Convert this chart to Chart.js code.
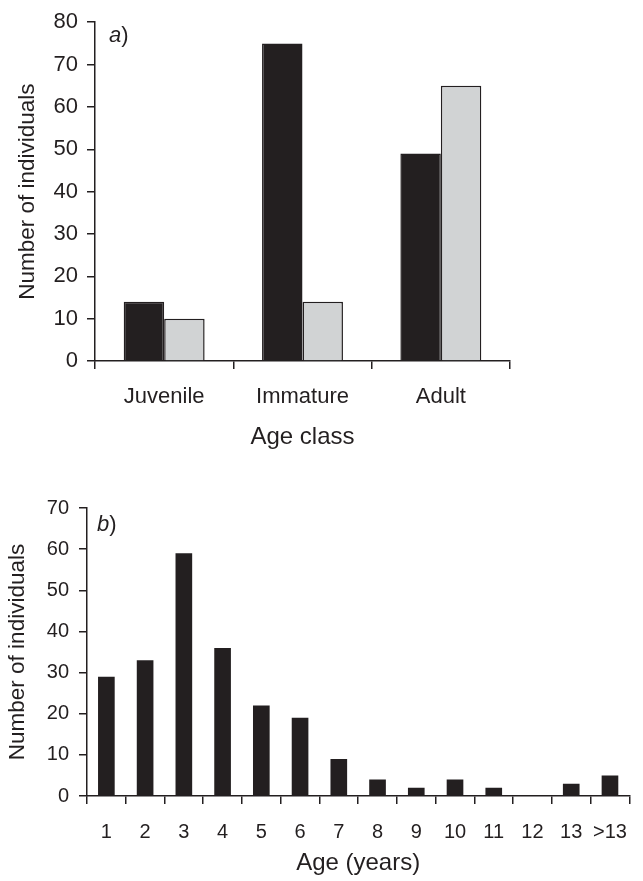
<!DOCTYPE html>
<html>
<head>
<meta charset="utf-8">
<script src="https://cdn.jsdelivr.net/npm/chart.js@4"></script>
<style>
    body { margin: 0; background: #fff; }
    .panel { position: absolute; left: 0; width: 643px; }
    #panelA { top: 0; height: 455px; }
    #panelB { top: 455px; height: 426px; }
</style>
</head>
<body>
<div class="panel" id="panelA"><canvas id="chartA"></canvas></div>
<div class="panel" id="panelB"><canvas id="chartB"></canvas></div>
<script>
const ageClasses = ['Juvenile', 'Immature', 'Adult'];
const darkCounts = [14, 75, 49];
const lightCounts = [10, 14, 65];

const ageYears = ['1', '2', '3', '4', '5', '6', '7', '8', '9', '10', '11', '12', '13', '>13'];
const yearCounts = [29, 33, 59, 36, 22, 19, 9, 4, 2, 4, 2, 0, 3, 5];

const INK = '#231f20';
const GREY = '#d1d3d4';
const FONT = '"Liberation Sans", Arial, Helvetica, sans-serif';

Chart.defaults.font.family = FONT;
Chart.defaults.color = INK;

// draws the italic panel letter followed by an upright bracket
const panelLabel = {
    id: 'panelLabel',
    afterDraw(chart, args, opts) {
        const { ctx, chartArea } = chart;
        const x = chartArea.left + opts.dx;
        const y = chartArea.top + opts.dy;
        ctx.save();
        ctx.fillStyle = INK;
        ctx.textBaseline = 'alphabetic';
        ctx.textAlign = 'left';
        ctx.font = 'italic 22px ' + FONT;
        ctx.fillText(opts.letter, x, y);
        const w = ctx.measureText(opts.letter).width;
        ctx.font = '22px ' + FONT;
        ctx.fillText(')', x + w, y);
        ctx.restore();
    }
};

function axisLines(tickLength) {
    return {
        grid: {
            display: true,
            drawOnChartArea: false,
            drawTicks: true,
            tickLength: tickLength,
            color: INK,
            lineWidth: 1.5
        },
        border: { display: true, color: INK, width: 1.5 }
    };
}

function makeScales(o) {
    return {
        x: {
            ...axisLines(8),
            offset: true,
            afterFit: s => { s.height = o.xHeight; },
            ticks: { font: { size: o.tickSize }, padding: o.xPad, maxRotation: 0, autoSkip: false },
            title: {
                display: true,
                text: o.xTitle,
                font: { size: 24 },
                padding: { top: 0, bottom: o.xTitlePad }
            }
        },
        y: {
            ...axisLines(8),
            min: 0,
            max: o.yMax,
            afterFit: s => { s.width = o.yWidth; },
            ticks: { stepSize: 10, font: { size: o.tickSize }, padding: o.yPad },
            title: {
                display: true,
                text: 'Number of individuals',
                font: { size: 22.5 },
                padding: { top: o.yTitlePad, bottom: 0 }
            }
        }
    };
}

new Chart(document.getElementById('chartA'), {
    type: 'bar',
    data: {
        labels: ageClasses,
        datasets: [{
            data: darkCounts,
            backgroundColor: INK,
            borderColor: INK,
            borderWidth: 1.5
        }, {
            data: lightCounts,
            backgroundColor: GREY,
            borderColor: INK,
            borderWidth: 1.5
        }]
    },
    options: {
        responsive: true,
        maintainAspectRatio: false,
        animation: false,
        categoryPercentage: 0.585,
        barPercentage: 1,
        layout: { padding: { left: 0, top: 18, right: 133, bottom: 0 } },
        plugins: {
            legend: { display: false },
            tooltip: { enabled: false },
            panelLabel: { letter: 'a', dx: 14, dy: 20 }
        },
        scales: makeScales({
            xHeight: 94, yWidth: 95, yMax: 80, tickSize: 22,
            xPad: 15, yPad: 9, xTitle: 'Age class', xTitlePad: 3, yTitlePad: 14
        })
    },
    plugins: [panelLabel]
});

new Chart(document.getElementById('chartB'), {
    type: 'bar',
    data: {
        labels: ageYears,
        datasets: [{
            data: yearCounts,
            backgroundColor: INK,
            borderColor: INK,
            borderWidth: 0
        }]
    },
    options: {
        responsive: true,
        maintainAspectRatio: false,
        animation: false,
        categoryPercentage: 1,
        barPercentage: 0.43,
        layout: { padding: { left: 0, top: 53, right: 2, bottom: 0 } },
        plugins: {
            legend: { display: false },
            tooltip: { enabled: false },
            panelLabel: { letter: 'b', dx: 10, dy: 23 }
        },
        scales: makeScales({
            xHeight: 85, yWidth: 87, yMax: 70, tickSize: 20,
            xPad: 16, yPad: 10, xTitle: 'Age (years)', xTitlePad: 3, yTitlePad: 4
        })
    },
    plugins: [panelLabel]
});
</script>
</body>
</html>
